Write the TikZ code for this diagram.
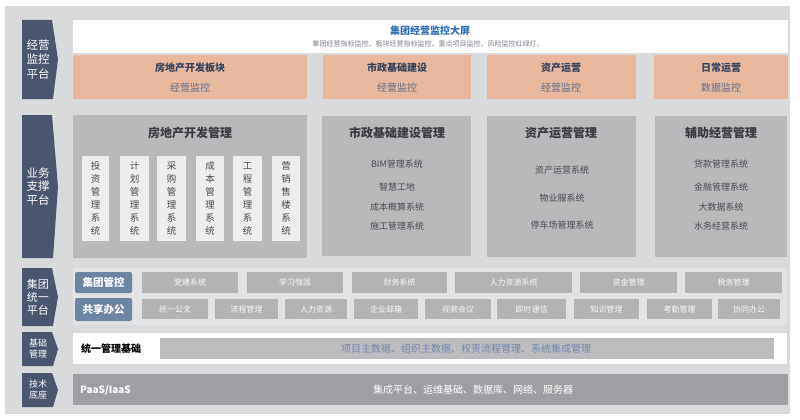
\documentclass[tikz,border=0pt]{standalone}
\usepackage{fontspec}
\setmainfont{Noto Sans CJK SC}
\definecolor{bg}{HTML}{D9DADC}
\definecolor{navy}{HTML}{4A566E}
\definecolor{peach}{HTML}{E8B89E}
\definecolor{midgray}{HTML}{B9B9BB}
\definecolor{lightbox}{HTML}{EDEDED}
\definecolor{titleblue}{HTML}{2F6DB5}
\definecolor{subgray}{HTML}{7A7F88}
\definecolor{darktxt}{HTML}{3A3B40}
\definecolor{itemtxt}{HTML}{4A4B50}
\definecolor{btnblue}{HTML}{6E84A3}
\definecolor{itemgray}{HTML}{B3B3B5}
\definecolor{strip}{HTML}{E2E3E5}
\definecolor{basebar}{HTML}{BDBDBF}
\definecolor{basetxt}{HTML}{6F89AE}
\definecolor{techbar}{HTML}{9E9FA3}
\definecolor{peachtitle}{HTML}{33425F}
\definecolor{peachsub}{HTML}{5A6C8E}
\newcommand\bx[6]{\node[#2, anchor=north west, minimum width={(#5-#3)*1pt}, minimum height={(#6-#4)*1pt}] (#1) at (#3,#4) {};}
\newcommand\plat[6]{\fill[navy] (22,#2) -- (52,#2) -- (58,{(#2+#3)/2}) -- (53,#3) -- (22,#3) -- cycle;
  \node[labeltext, font=\fontsize{#5}{#6}\selectfont] (#1) at (38,{(#2+#3)/2}) {#4};}
\newcommand\vsysbox[4]{\bx{#1}{vsys}{#2}{156}{#3}{241}\node[vtext] at (#1.center) {#4};}
\newcommand\itm[6]{\bx{#1}{itembox}{#2}{#3}{#4}{#5}\node[itemtext] at (#1.center) {#6};}
\begin{document}
\begin{tikzpicture}[x=1pt,y=-1pt,
  every node/.style={inner sep=0pt, outer sep=0pt},
  labeltext/.style={text=white, align=center},
  peachbox/.style={fill=peach},
  midbox/.style={fill=midgray},
  vsys/.style={fill=lightbox},
  vtext/.style={text=itemtxt, align=center, font=\fontsize{9.5}{13}\selectfont},
  boxtitle/.style={text=darktxt, font=\fontsize{12}{14}\selectfont\bfseries},
  systxt/.style={text=itemtxt, font=\fontsize{9}{11}\selectfont},
  ptitle/.style={text=peachtitle, font=\fontsize{10}{12}\selectfont\bfseries},
  psub/.style={text=peachsub, font=\fontsize{10}{12}\selectfont},
  btn/.style={fill=btnblue, rounded corners=2pt},
  btntext/.style={text=white, font=\fontsize{10.5}{12}\selectfont\bfseries},
  itembox/.style={fill=itemgray},
  itemtext/.style={text=white!92!itemgray, font=\fontsize{8}{10}\selectfont},
]
\fill[white] (0,0) rectangle (800,420);
\useasboundingbox (0,0) rectangle (800,420);
\fill[bg] (5,6) rectangle (790,414);

% left labels
\plat{L1}{20}{99}{经营\\监控\\平台}{11.5}{14.5}
\plat{L2}{115}{258}{业务\\支撑\\平台}{11.5}{13.5}
\plat{L3}{268}{326}{集团\\统一\\平台}{11}{13}
\plat{L4}{332}{366}{基础\\管理}{9}{11}
\plat{L5}{373}{407}{技术\\底座}{9}{11}

% top screen
\bx{screen}{fill=white}{73}{20}{788}{53}
\node[text=titleblue, font=\fontsize{10}{12}\selectfont\bfseries] (scrt) at (430,31) {集团经营监控大屏};
\node[text=subgray, font=\fontsize{7}{8}\selectfont] (scrs) at (428,44) {集团经营指标监控、板块经营指标监控、重点项目监控、风险监控红绿灯、};

% peach boxes
\bx{P1}{peachbox}{73}{55}{307}{99}
\bx{P2}{peachbox}{323}{55}{471}{99}
\bx{P3}{peachbox}{487}{55}{636}{99}
\bx{P4}{peachbox}{654}{55}{788}{99}
\node[ptitle] (p1t) at (190,68) {房地产开发板块};
\node[psub]   (p1s) at (190,88) {经营监控};
\node[ptitle] (p2t) at (397,68) {市政基础建设};
\node[psub]   (p2s) at (397,88) {经营监控};
\node[ptitle] (p3t) at (561,68) {资产运营};
\node[psub]   (p3s) at (561,88) {经营监控};
\node[ptitle] (p4t) at (721,68) {日常运营};
\node[psub]   (p4s) at (721,88) {数据监控};

% middle boxes
\bx{M1}{midbox}{73}{115}{307}{258}
\bx{M2}{midbox}{322}{116}{471}{256}
\bx{M3}{midbox}{487}{116}{636}{257}
\bx{M4}{midbox}{655}{116}{787}{257}
\node[boxtitle] (m1t) at (190,133) {房地产开发管理};
\node[boxtitle] (m2t) at (397,133) {市政基础建设管理};
\node[boxtitle] (m3t) at (561,133) {资产运营管理};
\node[boxtitle] (m4t) at (721,133) {辅助经营管理};

\vsysbox{V1}{82}{109}{投\\资\\管\\理\\系\\统}
\vsysbox{V2}{120}{149}{计\\划\\管\\理\\系\\统}
\vsysbox{V3}{157}{186}{采\\购\\管\\理\\系\\统}
\vsysbox{V4}{196}{224}{成\\本\\管\\理\\系\\统}
\vsysbox{V5}{233}{262}{工\\程\\管\\理\\系\\统}
\vsysbox{V6}{272}{300}{营\\销\\售\\楼\\系\\统}

\node[systxt] (s21) at (397,164) {BIM管理系统};
\node[systxt] (s22) at (397,187) {智慧工地};
\node[systxt] (s23) at (397,207) {成本概算系统};
\node[systxt] (s24) at (397,226) {施工管理系统};
\node[systxt] (s31) at (562,170) {资产运营系统};
\node[systxt] (s32) at (562,198) {物业服系统};
\node[systxt] (s33) at (562,225) {停车场管理系统};
\node[systxt] (s41) at (721,164) {贷款管理系统};
\node[systxt] (s42) at (721,187) {金融管理系统};
\node[systxt] (s43) at (721,207) {大数据系统};
\node[systxt] (s44) at (721,226) {水务经营系统};

% group unified platform
\bx{G}{fill=strip}{73}{268}{787}{325}
\bx{B1}{btn}{75}{272}{132}{293}
\bx{B2}{btn}{75}{298}{132}{321}
\node[btntext] at (B1.center) {集团管控};
\node[btntext] at (B2.center) {共享办公};
\itm{R11}{142}{272}{238}{293}{党建系统}
\itm{R12}{247}{272}{343}{293}{学习强国}
\itm{R13}{352}{272}{447}{293}{财务系统}
\itm{R14}{455}{272}{572}{293}{人力资源系统}
\itm{R15}{580}{272}{677}{293}{资金管理}
\itm{R16}{685}{272}{782}{293}{税务管理}
\itm{R21}{142}{299}{208}{319}{统一公文}
\itm{R22}{215}{299}{278}{319}{流程管理}
\itm{R23}{285}{299}{347}{319}{人力资源}
\itm{R24}{354}{299}{418}{319}{企业邮箱}
\itm{R25}{425}{299}{491}{319}{视频会议}
\itm{R26}{497}{299}{566}{319}{即时通信}
\itm{R27}{574}{299}{639}{319}{知识管理}
\itm{R28}{647}{299}{712}{319}{考勤管理}
\itm{R29}{718}{299}{780}{319}{协同办公}

% base management
\bx{BASE}{fill=white!97!bg}{73}{333}{787}{364}
\bx{BBAR}{fill=basebar}{160}{338}{774}{359}
\node[anchor=west, text=black, font=\fontsize{10}{12}\selectfont\bfseries] (bt) at (81,349) {统一管理基础};
\node[text=basetxt, font=\fontsize{10}{12}\selectfont] (bbt) at (466,349) {项目主数据、组织主数据、权责流程管理、系统集成管理};

% tech base
\bx{TECH}{fill=techbar}{73}{374}{788}{405}
\node[anchor=west, text=white, font=\fontsize{10}{12}\selectfont\bfseries] (tt) at (80,390) {PaaS/IaaS};
\node[text=white, font=\fontsize{10}{12}\selectfont] (tt2) at (473,390) {集成平台、运维基础、数据库、网络、服务器};
\end{tikzpicture}
\end{document}
